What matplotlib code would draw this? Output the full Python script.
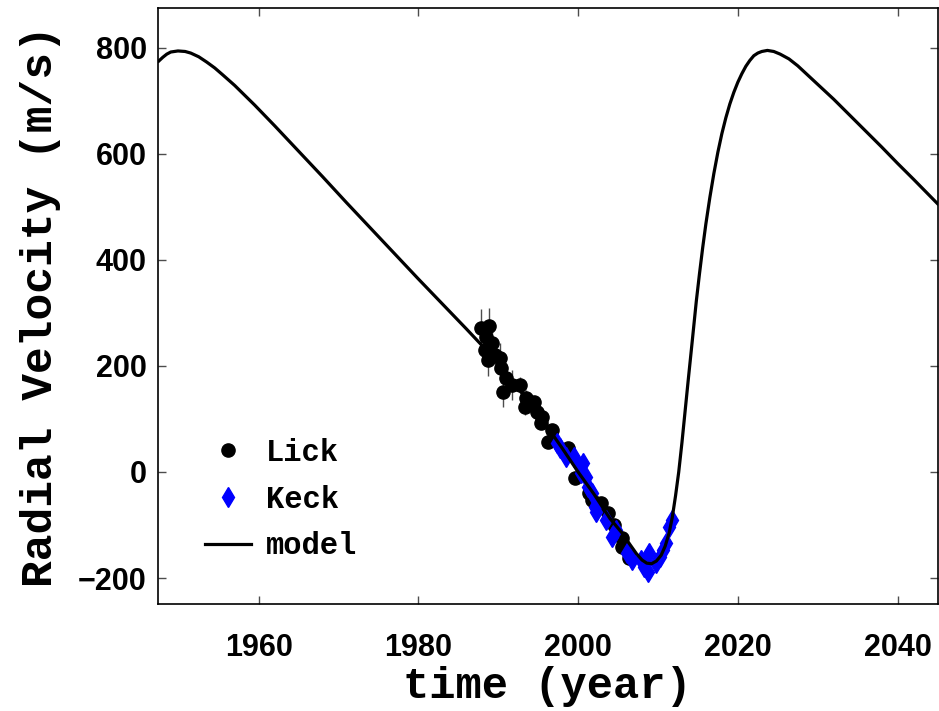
import matplotlib
matplotlib.use('Agg')
import matplotlib.pyplot as plt
import numpy as np

# model curve
model_year = [1947.5, 1948.0, 1948.5, 1949.0, 1949.9, 1950.8, 1951.5, 1952.5,
              1953.5, 1954.5, 1955.5, 1957.0, 1959.5, 1962.0, 1965.0, 1968.0,
              1971.0, 1974.0, 1977.0, 1980.0, 1983.0, 1986.0, 1988.0, 1990.0,
              1992.0, 1994.0, 1996.0, 1998.0, 2000.0, 2002.0, 2004.0, 2005.5,
              2006.5, 2007.3, 2008.0, 2008.6, 2009.2, 2009.8, 2010.4, 2010.9,
              2011.4, 2011.8, 2012.2, 2012.6, 2013.0, 2013.4, 2013.8, 2014.3,
              2014.8, 2015.2, 2015.6, 2016.0, 2016.5, 2017.0, 2017.5, 2018.0,
              2018.5, 2019.0, 2019.5, 2020.0, 2020.5, 2021.0, 2021.5, 2022.0,
              2022.5, 2023.0, 2023.7, 2024.5, 2025.3, 2026.4, 2027.5, 2028.5,
              2030.5, 2032.0, 2034.0, 2036.0, 2038.0, 2040.0, 2042.0, 2045.0]
model_rv = [775, 782, 788, 792, 794, 793, 790, 783,
            773, 762, 749, 729, 692, 653, 605, 557,
            508, 460, 412, 364, 317, 270, 238, 205,
            168, 128, 88, 45, 0, -42, -88, -115,
            -137, -154, -166, -172, -173, -168, -157, -140,
            -115, -85, -45, 0, 55, 115, 175, 248,
            322, 374, 423, 468, 518, 563, 603, 638,
            668, 694, 716, 735, 751, 765, 776, 785,
            790, 793, 795, 793, 788, 779, 766, 752,
            724, 703, 673, 643, 613, 582, 552, 506]

# Lick data
lick_year = [1987.9, 1988.8, 1988.5, 1989.2, 1988.3, 1988.7, 1989.6, 1990.2,
             1990.4, 1991.0, 1990.6, 1991.7, 1992.7, 1993.5, 1993.3, 1994.5,
             1994.8, 1995.5, 1995.4, 1996.7, 1996.2, 1998.7, 1999.6, 2001.4,
             2001.7, 2002.9, 2003.7, 2004.5, 2005.5, 2005.5, 2006.4]
lick_rv = [272, 275, 255, 243, 230, 211, 221, 215,
           196, 177, 151, 164, 164, 140, 123, 132,
           113, 104, 92, 79, 57, 45, -11, -40,
           -53, -58, -77, -100, -125, -141, -162]
lick_err = [35, 35, 30, 30, 30, 30, 30, 28,
            28, 28, 28, 28, 15, 15, 15, 12,
            12, 12, 10, 10, 10, 8, 8, 8,
            8, 8, 8, 8, 8, 8, 8]

# Keck data
keck_year = [1997.3, 1997.7, 1998.5, 1999.5, 2000.2, 2000.6, 2000.4, 2001.0,
             2001.2, 2001.7, 2002.1, 2002.3, 2003.5, 2004.3, 2004.8, 2006.1,
             2006.8, 2007.9, 2008.3, 2008.7, 2008.9, 2009.8, 2010.2, 2010.6,
             2011.0, 2011.4, 2011.8]
keck_rv = [55, 45, 28, 28, 9, 17, -2, -9,
           -28, -40, -66, -75, -91, -123, -109, -153,
           -166, -166, -179, -189, -153, -172, -160, -147,
           -134, -104, -91]

mono = ['Liberation Mono', 'DejaVu Sans Mono']
sans = ['Liberation Sans Narrow', 'Liberation Sans', 'DejaVu Sans']

fig = plt.figure(figsize=(9.39, 7.11), dpi=100)
ax = fig.add_axes([158/939, 107/711, 779.5/939, 596/711])

ax.errorbar(lick_year, lick_rv, yerr=lick_err, fmt='none', ecolor='0.3',
            elinewidth=1.0, zorder=1)
ax.plot(lick_year, lick_rv, 'o', color='black', ms=9.5, zorder=2, label='Lick')
ax.plot(keck_year, keck_rv, 'd', color='blue', ms=10, mec='blue', zorder=3,
        label='Keck')
ax.plot(model_year, model_rv, '-', color='black', lw=2.3, zorder=4,
        solid_joinstyle='round', label='model')

ax.set_xlim(1947.4, 2045.0)
ax.set_ylim(-249, 875)
ax.set_xticks([1960, 1980, 2000, 2020, 2040])
ax.set_yticks([-200, 0, 200, 400, 600, 800])
ax.set_yticklabels(['\u2212200', '0', '200', '400', '600', '800'])
ax.tick_params(direction='in', length=6, width=1, top=True, right=True,
               color='0.3')
ax.tick_params(axis='x', pad=21)
ax.tick_params(axis='y', pad=8)
for lab in ax.get_xticklabels() + ax.get_yticklabels():
    lab.set_family(sans)
    lab.set_fontweight('bold')
    lab.set_fontsize(22)
for sp in ax.spines.values():
    sp.set_linewidth(1.2)

ax.set_xlabel('time (year)', family=mono, fontweight='bold', fontsize=31.5,
              labelpad=2)
ax.set_ylabel('Radial Velocity (m/s)', family=mono, fontweight='bold',
              fontsize=32, labelpad=12)

ax.legend(loc='upper left', bbox_to_anchor=(0.025, 0.325), frameon=False,
          prop={'family': mono, 'weight': 'bold', 'size': 22},
          handlelength=1.5, handletextpad=0.5, labelspacing=0.55,
          numpoints=1)

fig.savefig('out.png', dpi=100, facecolor='white')
